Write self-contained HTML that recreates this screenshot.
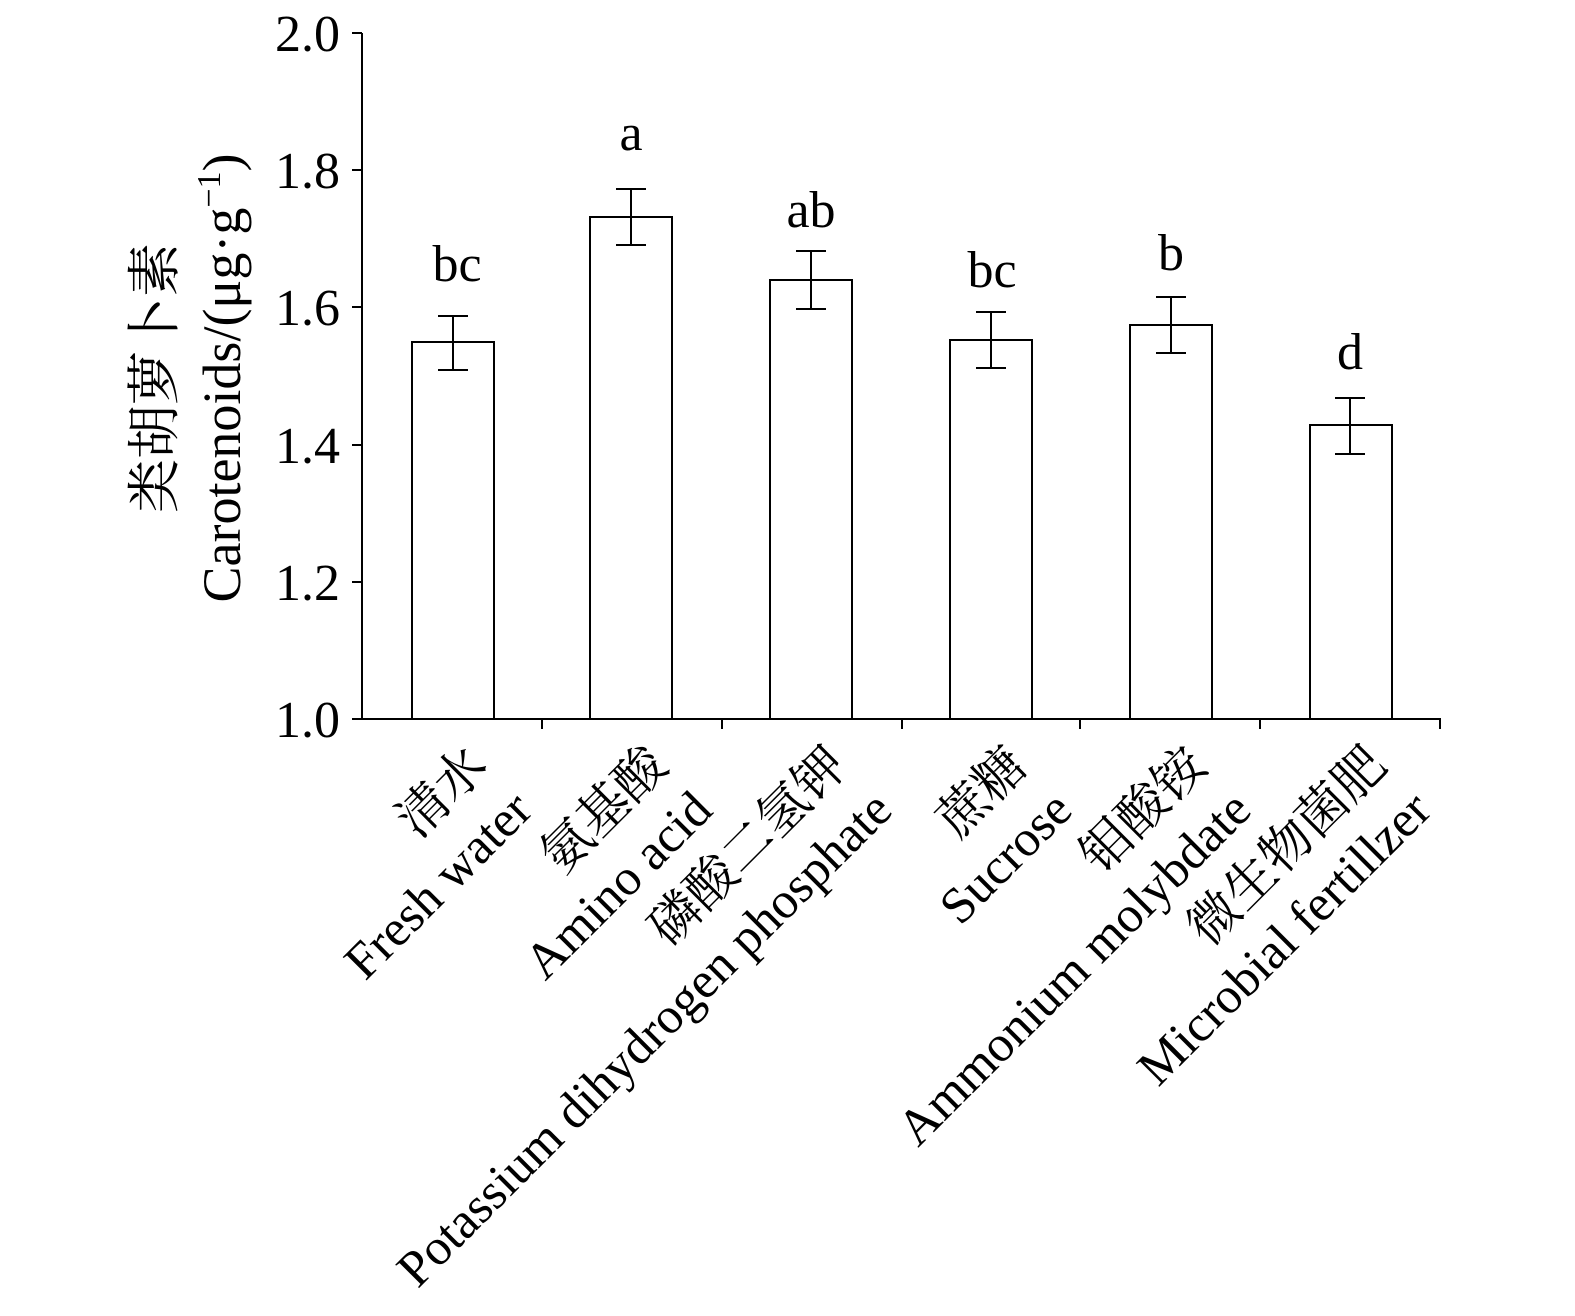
<!DOCTYPE html>
<html><head><meta charset="utf-8"><style>body{margin:0;background:#fff}</style></head><body>
<svg width="1575" height="1311" xmlns="http://www.w3.org/2000/svg" font-family="Liberation Serif, Noto Serif CJK SC, serif" fill="#000">
<g stroke="#000" stroke-width="2" fill="none">
<line x1="362" y1="33" x2="362" y2="720"/>
<line x1="361" y1="719" x2="1441" y2="719"/>
<line x1="352" y1="33" x2="362" y2="33"/>
<line x1="352" y1="170" x2="362" y2="170"/>
<line x1="352" y1="307" x2="362" y2="307"/>
<line x1="352" y1="445" x2="362" y2="445"/>
<line x1="352" y1="582" x2="362" y2="582"/>
<line x1="352" y1="719" x2="362" y2="719"/>
<line x1="542" y1="719" x2="542" y2="729"/>
<line x1="722" y1="719" x2="722" y2="729"/>
<line x1="902" y1="719" x2="902" y2="729"/>
<line x1="1080" y1="719" x2="1080" y2="729"/>
<line x1="1260" y1="719" x2="1260" y2="729"/>
<line x1="1440" y1="719" x2="1440" y2="729"/>
<rect x="412" y="342" width="82" height="377"/>
<rect x="590" y="217" width="82" height="502"/>
<rect x="770" y="280" width="82" height="439"/>
<rect x="950" y="340" width="82" height="379"/>
<rect x="1130" y="325" width="82" height="394"/>
<rect x="1310" y="425" width="82" height="294"/>
<path d="M453 316V370M438 316H468M438 370H468"/>
<path d="M631 189V245M616 189H646M616 245H646"/>
<path d="M811 251V309M796 251H826M796 309H826"/>
<path d="M991 312V368M976 312H1006M976 368H1006"/>
<path d="M1171 297V353M1156 297H1186M1156 353H1186"/>
<path d="M1350 398V454M1335 398H1365M1335 454H1365"/>
</g>
<g font-size="52" text-anchor="end">
<text x="340" y="51">2.0</text><text x="340" y="188">1.8</text><text x="340" y="325">1.6</text>
<text x="340" y="463">1.4</text><text x="340" y="600">1.2</text><text x="340" y="737">1.0</text>
</g>
<g font-size="52" text-anchor="middle">
<text x="457" y="281">bc</text><text x="631" y="150">a</text><text x="811" y="227">ab</text>
<text x="992" y="287">bc</text><text x="1171" y="270">b</text><text x="1350" y="369">d</text>
</g>
<g font-size="54" text-anchor="middle">
<text transform="translate(173,378) rotate(-90)">类胡萝卜素</text>
<text transform="translate(240,378) rotate(-90)">Carotenoids/(μg·g<tspan font-size="34" dy="-20">−1</tspan><tspan dy="20">)</tspan></text>
</g>
<g font-size="51" text-anchor="end">
<g transform="translate(490,768) rotate(-45)"><text>清水</text><text y="63">Fresh water</text></g>
<g transform="translate(670,768) rotate(-45)"><text>氨基酸</text><text y="63">Amino acid</text></g>
<g transform="translate(850,768) rotate(-45)"><text>磷酸二氢钾</text><text y="63">Potassium dihydrogen phosphate</text></g>
<g transform="translate(1030,768) rotate(-45)"><text>蔗糖</text><text y="63">Sucrose</text></g>
<g transform="translate(1209,768) rotate(-45)"><text>钼酸铵</text><text y="63">Ammonium molybdate</text></g>
<g transform="translate(1389,768) rotate(-45)"><text>微生物菌肥</text><text y="63">Microbial fertillzer</text></g>
</g>
</svg>
</body></html>
